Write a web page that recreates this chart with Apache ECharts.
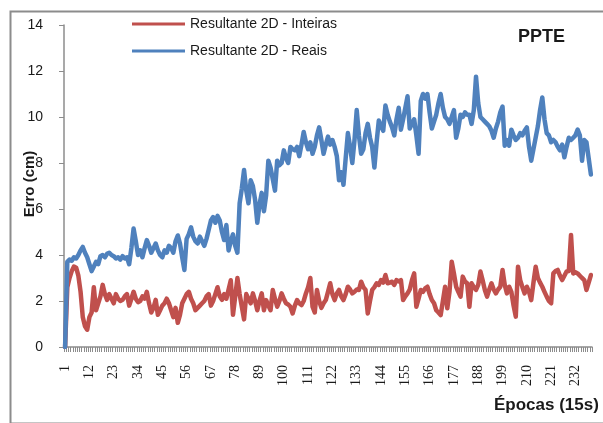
<!DOCTYPE html>
<html>
<head>
<meta charset="utf-8">
<script src="https://cdn.jsdelivr.net/npm/echarts@6/dist/echarts.min.js"></script>
<style>
html,body{margin:0;padding:0;background:#fff;}
#chart{width:603px;height:423px;}
</style>
</head>
<body>
<div id="chart"></div>
<script>
// Epoch categories (15 s each)
const epochs = Array.from({length: 239}, (_, i) => String(i + 1));

// Resultante 2D - Inteiras (cm)
const inteiras = [
0,2.6,3.0,3.3,3.5,3.45,3.1,2.4,1.3,0.9,
0.75,1.3,1.5,2.6,1.6,1.9,2.2,2.7,2.3,2.05,
2.3,2.1,1.9,2.3,2.1,2.0,2.05,2.2,2.3,1.8,
2.1,2.4,2.1,1.95,2.0,2.2,2.1,2.4,1.9,1.5,
1.7,2.05,1.4,1.6,1.8,1.9,2.1,1.9,1.6,1.3,
1.7,1.05,1.4,1.9,2.1,2.3,2.4,2.1,1.9,1.6,
1.7,1.8,1.9,2.0,2.2,2.3,1.8,2.0,2.3,2.6,
2.2,2.05,2.3,2.1,2.5,2.9,1.4,2.2,3.0,2.3,
1.75,1.2,2.3,2.1,1.9,2.33,2.0,1.6,2.0,2.33,
1.6,2.04,1.8,1.6,2.48,2.1,1.75,2.0,2.33,2.1,
1.9,1.85,1.75,1.46,1.8,2.04,1.9,1.82,2.0,2.33,
2.6,3.0,1.75,1.5,2.48,2.0,1.7,1.9,2.04,2.4,
2.77,2.3,2.04,2.33,2.48,2.2,2.04,2.3,2.62,2.5,
2.33,2.4,2.5,2.48,2.84,2.6,2.48,1.46,2.0,2.48,
2.6,2.77,2.7,2.91,2.8,3.13,2.77,2.8,2.84,2.7,
2.91,2.85,2.91,2.04,2.2,2.33,2.5,2.9,3.2,1.75,
2.1,2.48,2.4,2.55,2.62,2.3,2.04,1.9,1.6,1.5,
1.39,2.0,2.62,1.68,2.4,3.71,3.2,2.62,2.4,2.19,
3.06,2.85,2.77,1.75,2.77,2.6,2.48,2.7,3.28,2.9,
2.48,2.19,2.5,2.77,2.5,2.33,2.5,2.62,3.35,2.7,
2.33,2.62,2.4,1.8,1.32,3.49,2.91,2.6,2.33,2.62,
2.4,2.04,2.8,3.49,3.0,2.8,2.62,2.4,2.19,2.0,
1.9,3.2,3.3,3.35,3.1,2.91,3.1,3.28,3.3,4.87,
3.2,3.25,3.2,3.1,3.0,2.91,2.48,2.8,3.13
];

// Resultante 2D - Reais (cm)
const reais = [
0,3.7,3.8,3.75,3.9,3.85,4.0,4.2,4.35,4.1,
3.9,3.6,3.3,3.5,3.7,3.6,3.95,4.0,3.9,4.05,
4.1,4.0,3.95,3.85,3.9,3.8,3.95,3.85,3.9,3.6,
4.3,5.15,4.6,4.0,4.2,3.9,4.3,4.65,4.4,4.1,
4.3,4.5,4.2,4.0,3.9,4.2,4.1,4.4,4.3,4.1,
4.6,4.85,4.5,3.9,3.35,4.7,4.9,5.2,4.8,4.6,
4.5,4.8,4.6,4.4,4.7,5.1,5.5,5.65,5.4,5.7,
5.5,5.0,4.65,5.3,4.2,4.6,4.9,4.4,4.1,6.25,
6.9,7.7,6.8,6.25,7.25,7.0,6.4,5.4,6.2,6.7,
5.9,6.6,8.1,7.8,7.3,6.8,8.1,7.9,8.0,8.55,
8.2,8.0,8.7,8.6,8.55,8.7,8.3,8.8,9.35,8.9,
8.6,8.9,8.4,8.7,9.2,9.55,9.0,8.4,8.8,9.15,
8.8,9.0,8.7,8.3,7.25,7.6,7.05,8.2,9.3,8.7,
8.0,9.0,10.3,9.2,8.4,8.6,9.3,9.7,9.1,8.7,
7.8,8.9,9.85,9.6,9.4,10.5,10.1,9.8,9.55,9.2,
9.9,10.4,9.45,9.9,10.4,10.9,9.5,9.7,9.9,9.2,
8.4,10.7,11.0,10.8,11.0,10.2,9.5,9.8,10.1,10.6,
11.0,10.4,10.0,9.9,9.7,10.0,10.3,9.1,9.5,10.1,
10.0,10.2,10.1,10.1,9.7,10.3,11.75,10.6,10.0,9.9,
9.8,9.7,9.6,9.4,9.1,9.5,9.8,10.2,10.45,8.75,
9.0,8.75,9.45,9.2,9.0,9.1,9.3,9.2,9.4,9.55,
8.7,8.1,8.6,9.1,9.6,10.3,10.85,9.9,9.3,9.2,
8.9,9.0,8.9,8.7,8.55,8.8,8.25,8.7,9.1,9.0,
9.1,9.2,9.45,9.2,8.1,9.0,8.9,8.2,7.5
];

const yTicks = {min: 0, max: 14, step: 2};
const seriesNames = ['Resultante 2D - Inteiras', 'Resultante 2D - Reais'];

const chart = echarts.init(document.getElementById('chart'), null, {renderer: 'canvas'});
const axisGray = '#8c8c8c';
const textColor = '#1a1a1a';

chart.setOption({
  animation: false,
  backgroundColor: '#ffffff',
  color: ['#C0504D', '#4F81BD'],
  grid: {left: 64, right: 11, top: 25, bottom: 76, containLabel: false, outerBoundsMode: 'none'},
  legend: {
    orient: 'vertical',
    left: 127,
    top: 12,
    icon: 'rect',
    itemWidth: 53,
    itemHeight: 3,
    itemGap: 13,
    data: seriesNames,
    textStyle: {fontFamily: 'Liberation Sans', fontSize: 14, color: textColor, lineHeight: 14}
  },
  xAxis: {
    type: 'category',
    data: epochs,
    boundaryGap: true,
    axisLine: {show: true, lineStyle: {color: axisGray, width: 1.5}},
    axisTick: {show: true, interval: 0, length: 5, lineStyle: {color: axisGray}},
    axisLabel: {
      interval: 10, rotate: 90, margin: 18,
      fontFamily: 'Liberation Serif', fontSize: 14, color: textColor
    },
    splitLine: {show: false}
  },
  yAxis: {
    type: 'value',
    min: yTicks.min, max: yTicks.max, interval: yTicks.step,
    axisLine: {show: true, lineStyle: {color: axisGray, width: 1.5}},
    axisTick: {show: true, length: 5, lineStyle: {color: axisGray}},
    axisLabel: {margin: 21, fontFamily: 'Liberation Sans', fontSize: 14, color: textColor},
    splitLine: {show: false}
  },
  graphic: [
    {type: 'rect', left: 8, top: 9, shape: {width: 600, height: 412},
     style: {fill: 'none', stroke: '#8c8c8c', lineWidth: 2}, silent: true, z: -1},
    {type: 'text', x: 30, y: 184, rotation: Math.PI / 2,
     style: {text: 'Erro (cm)', font: 'bold 15px "Liberation Sans"', fill: textColor,
             align: 'center', verticalAlign: 'middle'}},
    {type: 'text', left: 518, top: 28,
     style: {text: 'PPTE', font: 'bold 18px "Liberation Sans"', fill: textColor}},
    {type: 'text', left: 494, top: 397,
     style: {text: 'Épocas (15s)', font: 'bold 17px "Liberation Sans"', fill: textColor}}
  ],
  series: [
    {name: seriesNames[0], type: 'line', data: inteiras, symbol: 'none',
     lineStyle: {width: 4.5, cap: 'round', join: 'round'}},
    {name: seriesNames[1], type: 'line', data: reais, symbol: 'none',
     lineStyle: {width: 4.5, cap: 'round', join: 'round'}}
  ]
});
</script>
</body>
</html>
